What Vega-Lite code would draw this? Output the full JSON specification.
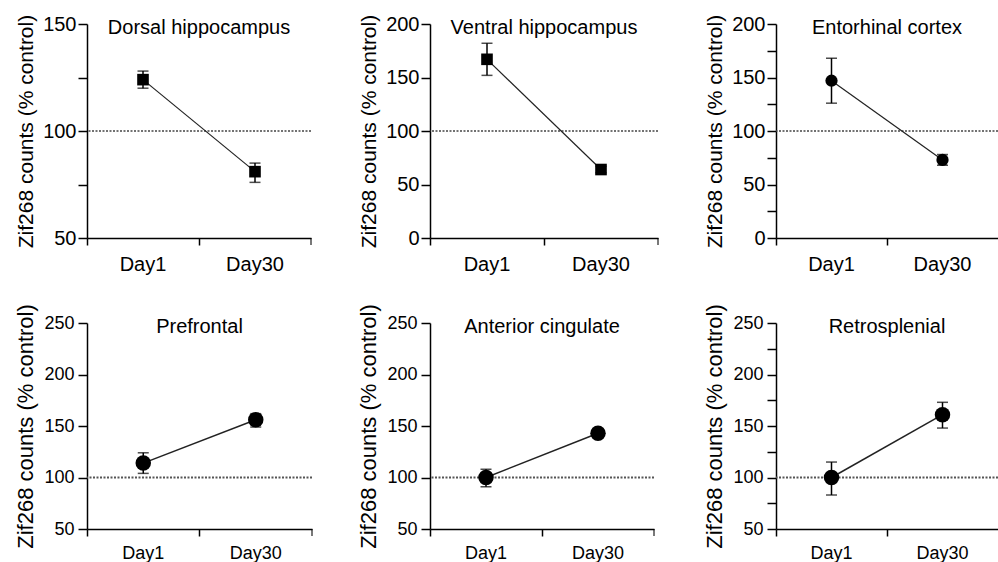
{
  "$schema": "https://vega.github.io/schema/vega-lite/v6.json",
  "padding": {"left": 14, "top": 14, "right": 0, "bottom": 0},
  "background": "white",
  "data": {"values": [
    {"region": "Dorsal hippocampus", "day": "Day1", "mean": 124, "lo": 120, "hi": 128},
    {"region": "Dorsal hippocampus", "day": "Day30", "mean": 81, "lo": 76, "hi": 85},
    {"region": "Ventral hippocampus", "day": "Day1", "mean": 167, "lo": 152, "hi": 182},
    {"region": "Ventral hippocampus", "day": "Day30", "mean": 64, "lo": 61, "hi": 67},
    {"region": "Entorhinal cortex", "day": "Day1", "mean": 147, "lo": 126, "hi": 168},
    {"region": "Entorhinal cortex", "day": "Day30", "mean": 73, "lo": 68, "hi": 78},
    {"region": "Prefrontal", "day": "Day1", "mean": 114, "lo": 104, "hi": 124},
    {"region": "Prefrontal", "day": "Day30", "mean": 156, "lo": 149, "hi": 162},
    {"region": "Anterior cingulate", "day": "Day1", "mean": 100, "lo": 91, "hi": 108},
    {"region": "Anterior cingulate", "day": "Day30", "mean": 143, "lo": 139, "hi": 147},
    {"region": "Retrosplenial", "day": "Day1", "mean": 100, "lo": 83, "hi": 115},
    {"region": "Retrosplenial", "day": "Day30", "mean": 161, "lo": 148, "hi": 173}
  ]},
  "columns": 3,
  "spacing": {"row": 85, "column": 118},
  "bounds": "flush",
  "concat": [
        {
          "width": 224, "height": 214,
          "title": {"text": "Dorsal hippocampus", "offset": -24},
          "transform": [{"filter": "datum.region === 'Dorsal hippocampus'"}],
          "layer": [
            {"data": {"values": [{"ref": 100}]}, "mark": {"type": "rule", "strokeDash": [2, 1.5], "color": "#444", "strokeWidth": 1.3},
             "encoding": {"y": {"field": "ref", "type": "quantitative", "scale": {"domain": [50, 150], "nice": false, "zero": false}, "axis": {"values": [50, 75, 100, 125, 150], "labelExpr": "datum.value % 50 === 0 ? datum.label : ''", "title": "Zif268 counts (% control)"}}}},
            {"mark": {"type": "line", "color": "#222", "strokeWidth": 1.2},
             "encoding": {"x": {"field": "day", "type": "nominal", "scale": {"type": "band", "domain": ["Day1", "Day30"], "paddingInner": 0, "paddingOuter": 0}, "axis": {"title": null, "bandPosition": 0, "labelAngle": 0}},
                          "y": {"field": "mean", "type": "quantitative", "scale": {"domain": [50, 150], "nice": false, "zero": false}, "axis": {"values": [50, 75, 100, 125, 150], "labelExpr": "datum.value % 50 === 0 ? datum.label : ''", "title": "Zif268 counts (% control)"}}}},
            {"mark": {"type": "errorbar", "ticks": true, "size": 11, "thickness": 1.5, "color": "black"},
             "encoding": {"x": {"field": "day", "type": "nominal", "scale": {"type": "band", "domain": ["Day1", "Day30"], "paddingInner": 0, "paddingOuter": 0}, "axis": {"title": null, "bandPosition": 0, "labelAngle": 0}},
                          "y": {"field": "lo", "type": "quantitative", "scale": {"domain": [50, 150], "nice": false, "zero": false}, "axis": {"values": [50, 75, 100, 125, 150], "labelExpr": "datum.value % 50 === 0 ? datum.label : ''", "title": "Zif268 counts (% control)"}},
                          "y2": {"field": "hi"}}},
            {"mark": {"type": "point", "filled": true, "shape": "square", "size": 135, "color": "black", "opacity": 1},
             "encoding": {"x": {"field": "day", "type": "nominal", "scale": {"type": "band", "domain": ["Day1", "Day30"], "paddingInner": 0, "paddingOuter": 0}, "axis": {"title": null, "bandPosition": 0, "labelAngle": 0}},
                          "y": {"field": "mean", "type": "quantitative", "scale": {"domain": [50, 150], "nice": false, "zero": false}, "axis": {"values": [50, 75, 100, 125, 150], "labelExpr": "datum.value % 50 === 0 ? datum.label : ''", "title": "Zif268 counts (% control)"}}}},
            {"transform": [{"filter": "datum.day === 'Day30'"}],
             "mark": {"type": "tick", "orient": "vertical", "size": 7, "thickness": 1.5, "color": "black", "yOffset": 3.5},
             "encoding": {"x": {"field": "day", "type": "nominal", "bandPosition": 1, "scale": {"type": "band", "domain": ["Day1", "Day30"], "paddingInner": 0, "paddingOuter": 0}, "axis": {"title": null, "bandPosition": 0, "labelAngle": 0}},
                          "y": {"datum": 50, "type": "quantitative", "scale": {"domain": [50, 150], "nice": false, "zero": false}}}}
          ]
        },
        {
          "width": 228, "height": 214,
          "title": {"text": "Ventral hippocampus", "offset": -24},
          "transform": [{"filter": "datum.region === 'Ventral hippocampus'"}],
          "layer": [
            {"data": {"values": [{"ref": 100}]}, "mark": {"type": "rule", "strokeDash": [2, 1.5], "color": "#444", "strokeWidth": 1.3},
             "encoding": {"y": {"field": "ref", "type": "quantitative", "scale": {"domain": [0, 200], "nice": false, "zero": false}, "axis": {"values": [0, 25, 50, 75, 100, 125, 150, 175, 200], "labelExpr": "datum.value % 50 === 0 ? datum.label : ''", "title": "Zif268 counts (% control)"}}}},
            {"mark": {"type": "line", "color": "#222", "strokeWidth": 1.2},
             "encoding": {"x": {"field": "day", "type": "nominal", "scale": {"type": "band", "domain": ["Day1", "Day30"], "paddingInner": 0, "paddingOuter": 0}, "axis": {"title": null, "bandPosition": 0, "labelAngle": 0}},
                          "y": {"field": "mean", "type": "quantitative", "scale": {"domain": [0, 200], "nice": false, "zero": false}, "axis": {"values": [0, 25, 50, 75, 100, 125, 150, 175, 200], "labelExpr": "datum.value % 50 === 0 ? datum.label : ''", "title": "Zif268 counts (% control)"}}}},
            {"mark": {"type": "errorbar", "ticks": true, "size": 11, "thickness": 1.5, "color": "black"},
             "encoding": {"x": {"field": "day", "type": "nominal", "scale": {"type": "band", "domain": ["Day1", "Day30"], "paddingInner": 0, "paddingOuter": 0}, "axis": {"title": null, "bandPosition": 0, "labelAngle": 0}},
                          "y": {"field": "lo", "type": "quantitative", "scale": {"domain": [0, 200], "nice": false, "zero": false}, "axis": {"values": [0, 25, 50, 75, 100, 125, 150, 175, 200], "labelExpr": "datum.value % 50 === 0 ? datum.label : ''", "title": "Zif268 counts (% control)"}},
                          "y2": {"field": "hi"}}},
            {"mark": {"type": "point", "filled": true, "shape": "square", "size": 135, "color": "black", "opacity": 1},
             "encoding": {"x": {"field": "day", "type": "nominal", "scale": {"type": "band", "domain": ["Day1", "Day30"], "paddingInner": 0, "paddingOuter": 0}, "axis": {"title": null, "bandPosition": 0, "labelAngle": 0}},
                          "y": {"field": "mean", "type": "quantitative", "scale": {"domain": [0, 200], "nice": false, "zero": false}, "axis": {"values": [0, 25, 50, 75, 100, 125, 150, 175, 200], "labelExpr": "datum.value % 50 === 0 ? datum.label : ''", "title": "Zif268 counts (% control)"}}}},
            {"transform": [{"filter": "datum.day === 'Day30'"}],
             "mark": {"type": "tick", "orient": "vertical", "size": 7, "thickness": 1.5, "color": "black", "yOffset": 3.5},
             "encoding": {"x": {"field": "day", "type": "nominal", "bandPosition": 1, "scale": {"type": "band", "domain": ["Day1", "Day30"], "paddingInner": 0, "paddingOuter": 0}, "axis": {"title": null, "bandPosition": 0, "labelAngle": 0}},
                          "y": {"datum": 0, "type": "quantitative", "scale": {"domain": [0, 200], "nice": false, "zero": false}}}}
          ]
        },
        {
          "width": 222, "height": 214,
          "title": {"text": "Entorhinal cortex", "offset": -24},
          "transform": [{"filter": "datum.region === 'Entorhinal cortex'"}],
          "layer": [
            {"data": {"values": [{"ref": 100}]}, "mark": {"type": "rule", "strokeDash": [2, 1.5], "color": "#444", "strokeWidth": 1.3},
             "encoding": {"y": {"field": "ref", "type": "quantitative", "scale": {"domain": [0, 200], "nice": false, "zero": false}, "axis": {"values": [0, 25, 50, 75, 100, 125, 150, 175, 200], "labelExpr": "datum.value % 50 === 0 ? datum.label : ''", "title": "Zif268 counts (% control)"}}}},
            {"mark": {"type": "line", "color": "#222", "strokeWidth": 1.2},
             "encoding": {"x": {"field": "day", "type": "nominal", "scale": {"type": "band", "domain": ["Day1", "Day30"], "paddingInner": 0, "paddingOuter": 0}, "axis": {"title": null, "bandPosition": 0, "labelAngle": 0}},
                          "y": {"field": "mean", "type": "quantitative", "scale": {"domain": [0, 200], "nice": false, "zero": false}, "axis": {"values": [0, 25, 50, 75, 100, 125, 150, 175, 200], "labelExpr": "datum.value % 50 === 0 ? datum.label : ''", "title": "Zif268 counts (% control)"}}}},
            {"mark": {"type": "errorbar", "ticks": true, "size": 11, "thickness": 1.5, "color": "black"},
             "encoding": {"x": {"field": "day", "type": "nominal", "scale": {"type": "band", "domain": ["Day1", "Day30"], "paddingInner": 0, "paddingOuter": 0}, "axis": {"title": null, "bandPosition": 0, "labelAngle": 0}},
                          "y": {"field": "lo", "type": "quantitative", "scale": {"domain": [0, 200], "nice": false, "zero": false}, "axis": {"values": [0, 25, 50, 75, 100, 125, 150, 175, 200], "labelExpr": "datum.value % 50 === 0 ? datum.label : ''", "title": "Zif268 counts (% control)"}},
                          "y2": {"field": "hi"}}},
            {"mark": {"type": "point", "filled": true, "shape": "circle", "size": 150, "color": "black", "opacity": 1},
             "encoding": {"x": {"field": "day", "type": "nominal", "scale": {"type": "band", "domain": ["Day1", "Day30"], "paddingInner": 0, "paddingOuter": 0}, "axis": {"title": null, "bandPosition": 0, "labelAngle": 0}},
                          "y": {"field": "mean", "type": "quantitative", "scale": {"domain": [0, 200], "nice": false, "zero": false}, "axis": {"values": [0, 25, 50, 75, 100, 125, 150, 175, 200], "labelExpr": "datum.value % 50 === 0 ? datum.label : ''", "title": "Zif268 counts (% control)"}}}}
          ]
        },
        {
          "width": 225, "height": 206,
          "title": {"text": "Prefrontal", "offset": -33},
          "transform": [{"filter": "datum.region === 'Prefrontal'"}],
          "layer": [
            {"data": {"values": [{"ref": 100}]}, "mark": {"type": "rule", "strokeDash": [2, 1.5], "color": "#555", "strokeWidth": 2},
             "encoding": {"y": {"field": "ref", "type": "quantitative", "scale": {"domain": [50, 250], "nice": false, "zero": false}, "axis": {"values": [50, 75, 100, 125, 150, 175, 200, 225, 250], "labelExpr": "datum.value % 50 === 0 ? datum.label : ''", "title": "Zif268 counts (% control)", "titleFontSize": 22, "labelFontSize": 18, "labelPadding": 4}}}},
            {"mark": {"type": "line", "color": "#222", "strokeWidth": 1.5},
             "encoding": {"x": {"field": "day", "type": "nominal", "scale": {"type": "band", "domain": ["Day1", "Day30"], "paddingInner": 0, "paddingOuter": 0}, "axis": {"title": null, "bandPosition": 0, "labelAngle": 0, "labelFontSize": 18, "labelPadding": 8}},
                          "y": {"field": "mean", "type": "quantitative", "scale": {"domain": [50, 250], "nice": false, "zero": false}, "axis": {"values": [50, 75, 100, 125, 150, 175, 200, 225, 250], "labelExpr": "datum.value % 50 === 0 ? datum.label : ''", "title": "Zif268 counts (% control)", "titleFontSize": 22, "labelFontSize": 18, "labelPadding": 4}}}},
            {"mark": {"type": "errorbar", "ticks": true, "size": 11, "thickness": 1.5, "color": "black"},
             "encoding": {"x": {"field": "day", "type": "nominal", "scale": {"type": "band", "domain": ["Day1", "Day30"], "paddingInner": 0, "paddingOuter": 0}, "axis": {"title": null, "bandPosition": 0, "labelAngle": 0, "labelFontSize": 18, "labelPadding": 8}},
                          "y": {"field": "lo", "type": "quantitative", "scale": {"domain": [50, 250], "nice": false, "zero": false}, "axis": {"values": [50, 75, 100, 125, 150, 175, 200, 225, 250], "labelExpr": "datum.value % 50 === 0 ? datum.label : ''", "title": "Zif268 counts (% control)", "titleFontSize": 22, "labelFontSize": 18, "labelPadding": 4}},
                          "y2": {"field": "hi"}}},
            {"mark": {"type": "point", "filled": true, "shape": "circle", "size": 240, "color": "black", "opacity": 1},
             "encoding": {"x": {"field": "day", "type": "nominal", "scale": {"type": "band", "domain": ["Day1", "Day30"], "paddingInner": 0, "paddingOuter": 0}, "axis": {"title": null, "bandPosition": 0, "labelAngle": 0, "labelFontSize": 18, "labelPadding": 8}},
                          "y": {"field": "mean", "type": "quantitative", "scale": {"domain": [50, 250], "nice": false, "zero": false}, "axis": {"values": [50, 75, 100, 125, 150, 175, 200, 225, 250], "labelExpr": "datum.value % 50 === 0 ? datum.label : ''", "title": "Zif268 counts (% control)", "titleFontSize": 22, "labelFontSize": 18, "labelPadding": 4}}}},
            {"transform": [{"filter": "datum.day === 'Day30'"}],
             "mark": {"type": "tick", "orient": "vertical", "size": 7, "thickness": 1.5, "color": "black", "yOffset": 3.5},
             "encoding": {"x": {"field": "day", "type": "nominal", "bandPosition": 1, "scale": {"type": "band", "domain": ["Day1", "Day30"], "paddingInner": 0, "paddingOuter": 0}, "axis": {"title": null, "bandPosition": 0, "labelAngle": 0, "labelFontSize": 18, "labelPadding": 8}},
                          "y": {"datum": 50, "type": "quantitative", "scale": {"domain": [50, 250], "nice": false, "zero": false}}}}
          ]
        },
        {
          "width": 224, "height": 206,
          "title": {"text": "Anterior cingulate", "offset": -33},
          "transform": [{"filter": "datum.region === 'Anterior cingulate'"}],
          "layer": [
            {"data": {"values": [{"ref": 100}]}, "mark": {"type": "rule", "strokeDash": [2, 1.5], "color": "#555", "strokeWidth": 2},
             "encoding": {"y": {"field": "ref", "type": "quantitative", "scale": {"domain": [50, 250], "nice": false, "zero": false}, "axis": {"values": [50, 75, 100, 125, 150, 175, 200, 225, 250], "labelExpr": "datum.value % 50 === 0 ? datum.label : ''", "title": "Zif268 counts (% control)", "titleFontSize": 22, "labelFontSize": 18, "labelPadding": 4}}}},
            {"mark": {"type": "line", "color": "#222", "strokeWidth": 1.5},
             "encoding": {"x": {"field": "day", "type": "nominal", "scale": {"type": "band", "domain": ["Day1", "Day30"], "paddingInner": 0, "paddingOuter": 0}, "axis": {"title": null, "bandPosition": 0, "labelAngle": 0, "labelFontSize": 18, "labelPadding": 8}},
                          "y": {"field": "mean", "type": "quantitative", "scale": {"domain": [50, 250], "nice": false, "zero": false}, "axis": {"values": [50, 75, 100, 125, 150, 175, 200, 225, 250], "labelExpr": "datum.value % 50 === 0 ? datum.label : ''", "title": "Zif268 counts (% control)", "titleFontSize": 22, "labelFontSize": 18, "labelPadding": 4}}}},
            {"mark": {"type": "errorbar", "ticks": true, "size": 11, "thickness": 1.5, "color": "black"},
             "encoding": {"x": {"field": "day", "type": "nominal", "scale": {"type": "band", "domain": ["Day1", "Day30"], "paddingInner": 0, "paddingOuter": 0}, "axis": {"title": null, "bandPosition": 0, "labelAngle": 0, "labelFontSize": 18, "labelPadding": 8}},
                          "y": {"field": "lo", "type": "quantitative", "scale": {"domain": [50, 250], "nice": false, "zero": false}, "axis": {"values": [50, 75, 100, 125, 150, 175, 200, 225, 250], "labelExpr": "datum.value % 50 === 0 ? datum.label : ''", "title": "Zif268 counts (% control)", "titleFontSize": 22, "labelFontSize": 18, "labelPadding": 4}},
                          "y2": {"field": "hi"}}},
            {"mark": {"type": "point", "filled": true, "shape": "circle", "size": 240, "color": "black", "opacity": 1},
             "encoding": {"x": {"field": "day", "type": "nominal", "scale": {"type": "band", "domain": ["Day1", "Day30"], "paddingInner": 0, "paddingOuter": 0}, "axis": {"title": null, "bandPosition": 0, "labelAngle": 0, "labelFontSize": 18, "labelPadding": 8}},
                          "y": {"field": "mean", "type": "quantitative", "scale": {"domain": [50, 250], "nice": false, "zero": false}, "axis": {"values": [50, 75, 100, 125, 150, 175, 200, 225, 250], "labelExpr": "datum.value % 50 === 0 ? datum.label : ''", "title": "Zif268 counts (% control)", "titleFontSize": 22, "labelFontSize": 18, "labelPadding": 4}}}},
            {"transform": [{"filter": "datum.day === 'Day30'"}],
             "mark": {"type": "tick", "orient": "vertical", "size": 7, "thickness": 1.5, "color": "black", "yOffset": 3.5},
             "encoding": {"x": {"field": "day", "type": "nominal", "bandPosition": 1, "scale": {"type": "band", "domain": ["Day1", "Day30"], "paddingInner": 0, "paddingOuter": 0}, "axis": {"title": null, "bandPosition": 0, "labelAngle": 0, "labelFontSize": 18, "labelPadding": 8}},
                          "y": {"datum": 50, "type": "quantitative", "scale": {"domain": [50, 250], "nice": false, "zero": false}}}}
          ]
        },
        {
          "width": 222, "height": 206,
          "title": {"text": "Retrosplenial", "offset": -33},
          "transform": [{"filter": "datum.region === 'Retrosplenial'"}],
          "layer": [
            {"data": {"values": [{"ref": 100}]}, "mark": {"type": "rule", "strokeDash": [2, 1.5], "color": "#555", "strokeWidth": 2},
             "encoding": {"y": {"field": "ref", "type": "quantitative", "scale": {"domain": [50, 250], "nice": false, "zero": false}, "axis": {"values": [50, 75, 100, 125, 150, 175, 200, 225, 250], "labelExpr": "datum.value % 50 === 0 ? datum.label : ''", "title": "Zif268 counts (% control)", "titleFontSize": 22, "labelFontSize": 18, "labelPadding": 4}}}},
            {"mark": {"type": "line", "color": "#222", "strokeWidth": 1.5},
             "encoding": {"x": {"field": "day", "type": "nominal", "scale": {"type": "band", "domain": ["Day1", "Day30"], "paddingInner": 0, "paddingOuter": 0}, "axis": {"title": null, "bandPosition": 0, "labelAngle": 0, "labelFontSize": 18, "labelPadding": 8}},
                          "y": {"field": "mean", "type": "quantitative", "scale": {"domain": [50, 250], "nice": false, "zero": false}, "axis": {"values": [50, 75, 100, 125, 150, 175, 200, 225, 250], "labelExpr": "datum.value % 50 === 0 ? datum.label : ''", "title": "Zif268 counts (% control)", "titleFontSize": 22, "labelFontSize": 18, "labelPadding": 4}}}},
            {"mark": {"type": "errorbar", "ticks": true, "size": 11, "thickness": 1.5, "color": "black"},
             "encoding": {"x": {"field": "day", "type": "nominal", "scale": {"type": "band", "domain": ["Day1", "Day30"], "paddingInner": 0, "paddingOuter": 0}, "axis": {"title": null, "bandPosition": 0, "labelAngle": 0, "labelFontSize": 18, "labelPadding": 8}},
                          "y": {"field": "lo", "type": "quantitative", "scale": {"domain": [50, 250], "nice": false, "zero": false}, "axis": {"values": [50, 75, 100, 125, 150, 175, 200, 225, 250], "labelExpr": "datum.value % 50 === 0 ? datum.label : ''", "title": "Zif268 counts (% control)", "titleFontSize": 22, "labelFontSize": 18, "labelPadding": 4}},
                          "y2": {"field": "hi"}}},
            {"mark": {"type": "point", "filled": true, "shape": "circle", "size": 240, "color": "black", "opacity": 1},
             "encoding": {"x": {"field": "day", "type": "nominal", "scale": {"type": "band", "domain": ["Day1", "Day30"], "paddingInner": 0, "paddingOuter": 0}, "axis": {"title": null, "bandPosition": 0, "labelAngle": 0, "labelFontSize": 18, "labelPadding": 8}},
                          "y": {"field": "mean", "type": "quantitative", "scale": {"domain": [50, 250], "nice": false, "zero": false}, "axis": {"values": [50, 75, 100, 125, 150, 175, 200, 225, 250], "labelExpr": "datum.value % 50 === 0 ? datum.label : ''", "title": "Zif268 counts (% control)", "titleFontSize": 22, "labelFontSize": 18, "labelPadding": 4}}}}
          ]
        }
  ],
  "config": {
    "view": {"stroke": null},
    "font": "Liberation Sans",
    "title": {"font": "Liberation Sans", "fontSize": 20, "fontWeight": "normal", "color": "black", "frame": "group", "anchor": "middle", "baseline": "middle"},
    "axis": {"domainColor": "black", "domainWidth": 1.5, "tickColor": "black", "tickWidth": 1.5, "labelFont": "Liberation Sans", "titleFont": "Liberation Sans", "labelColor": "black", "titleColor": "black", "titleFontWeight": "normal", "grid": false},
    "axisY": {"tickSize": 9, "labelPadding": 2, "labelFontSize": 20, "titleFontSize": 21, "titlePadding": 6},
    "axisX": {"tickSize": 7, "labelPadding": 9, "labelFontSize": 20}
  }
}
